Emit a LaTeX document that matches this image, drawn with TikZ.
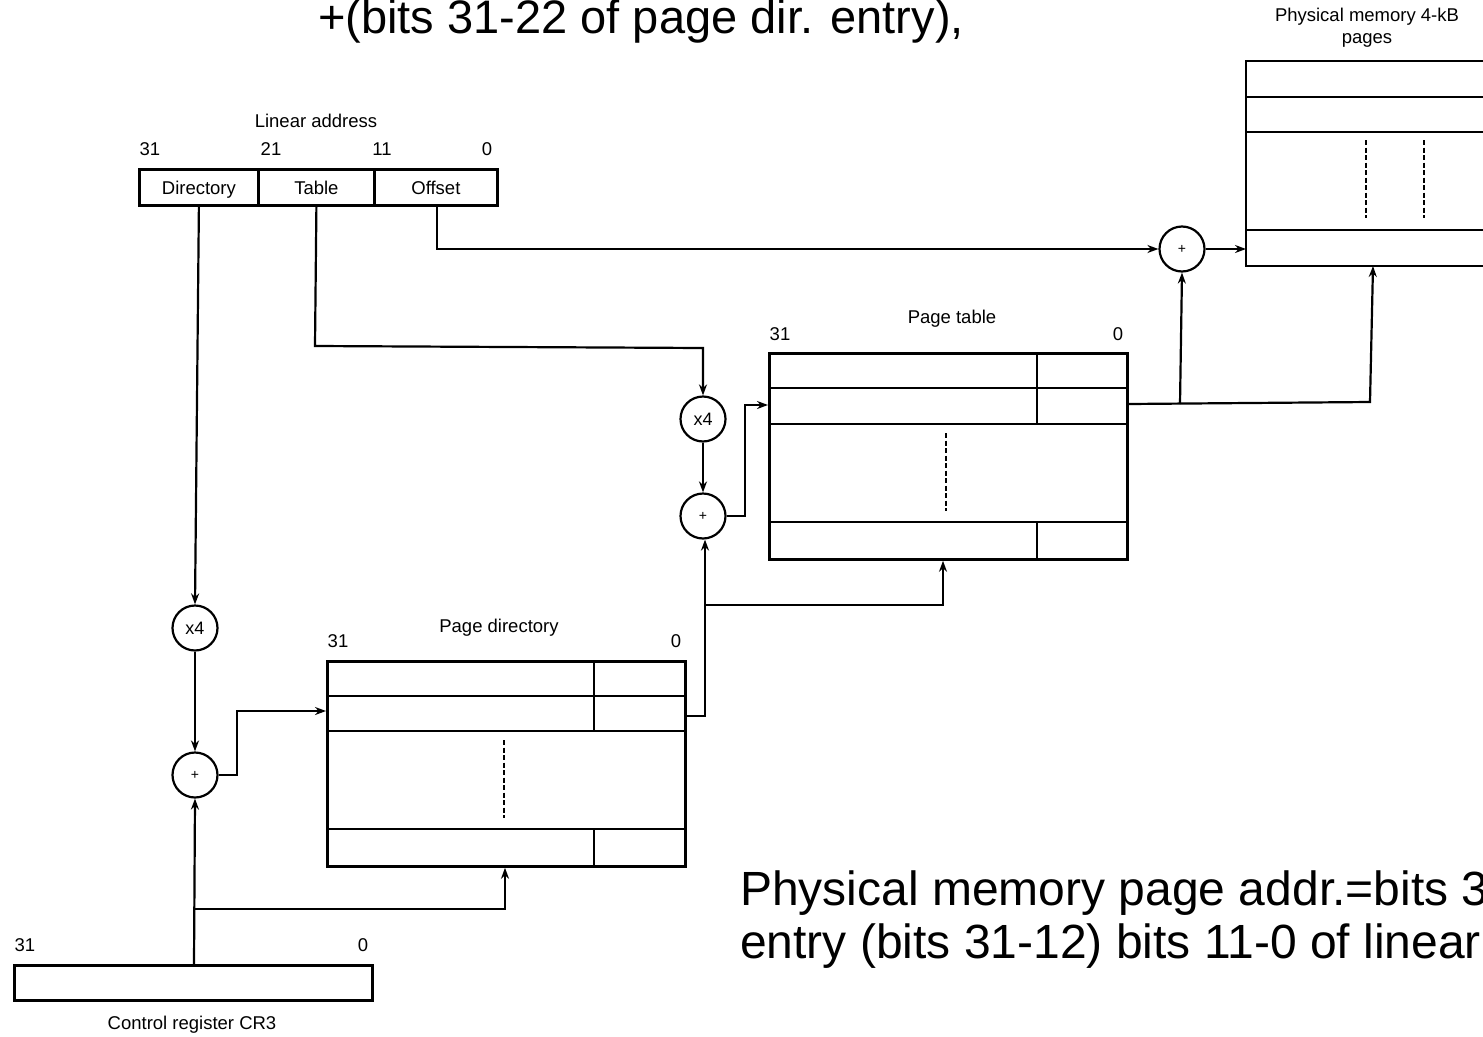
\documentclass[tikz,border=0pt]{standalone}
\usepackage{fontspec}
\setmainfont{Liberation Sans}
\usetikzlibrary{arrows.meta,calc}
\tikzset{
  lbl/.style={font=\fontsize{18.5}{22}\selectfont, inner sep=0pt},
  big/.style={font=\fontsize{47}{54}\selectfont, inner sep=0pt, anchor=base west},
  bigb/.style={font=\fontsize{48}{56}\selectfont, inner sep=0pt, anchor=base west},
  regbox/.style={draw, line width=2.8pt, rectangle, inner sep=0pt, anchor=north west},
  cell/.style={line width=2.8pt},
  opc/.style={draw, circle, line width=2.2pt, minimum size=45pt, inner sep=0pt, font=\fontsize{18}{20}\selectfont},
  conn/.style={line width=2.2pt, -{Stealth[length=11pt,width=8pt]}},
  dots/.style={line width=2.6pt, dash pattern=on 5pt off 2.5pt},
}
\begin{document}
\begin{tikzpicture}[x=1pt,y=-1pt]
\useasboundingbox (0,0) rectangle (1483,1036);
\clip (0,0) rectangle (1483,1036);
\fill[white] (0,0) rectangle (1483,1036);

% big texts
\node[big] (toptext) at (318,33) {+(bits 31-22 of page dir. entry),};
\node[bigb] (bot1) at (740,905) {Physical memory page addr.=bits 3};
\node[bigb] (bot2) at (740,958) {entry (bits 31-12) bits 11-0 of linear};

% Linear address
\node[lbl] (latitle) at (316,121) {Linear address};
\node[lbl] (la31) at (150,149) {31};
\node[lbl] (la21) at (271,149) {21};
\node[lbl] (la11) at (382,149) {11};
\node[lbl] (la0) at (487,149) {0};
\node[regbox, minimum width=119pt, minimum height=36pt] (dir) at (138,168) {};
\node[regbox, minimum width=116pt, minimum height=36pt] (tab) at (257,168) {};
\node[regbox, minimum width=123pt, minimum height=36pt] (off) at (373,168) {};
\node[lbl, anchor=base] (dirtxt) at ($(dir.south)+(0,-12)$) {Directory};
\node[lbl, anchor=base] (tabtxt) at ($(tab.south)+(0,-12)$) {Table};
\node[lbl, anchor=base] (offtxt) at ($(off.south)+(0,-12)$) {Offset};

% Physical memory
\node[lbl, align=center, font=\fontsize{18.5}{22}\selectfont] (pmtitle) at (1367,28) {Physical memory 4-kB\\pages};
\draw[cell] (1500,61) -- (1246,61) -- (1246,266) -- (1500,266);
\draw[cell] (1246,97) -- (1500,97);
\draw[cell] (1246,132) -- (1500,132);
\draw[cell] (1246,230) -- (1500,230);
\coordinate (pmin) at (1246,249);
\coordinate (pmbot) at (1373,266);
\draw[dots] (1366,140) -- (1366,218);
\draw[dots] (1424,140) -- (1424,218);

% Page table
\node[lbl] (pttitle) at (952,319) {Page table};
\node[lbl] (pt31) at (780,334) {31};
\node[lbl] (pt0) at (1118,334) {0};
\node[regbox, minimum width=358pt, minimum height=206pt] (pt) at (768,352) {};
\draw[cell] (768,388) -- (1126,388);
\draw[cell] (768,424) -- (1126,424);
\draw[cell] (768,522) -- (1126,522);
\draw[cell] (1037,352) -- (1037,424);
\draw[cell] (1037,522) -- (1037,558);
\draw[dots] (946,433) -- (946,511);

% Page directory
\node[lbl] (pdtitle) at (499,628) {Page directory};
\node[lbl] (pd31) at (338,641) {31};
\node[lbl] (pd0) at (676,641) {0};
\node[regbox, minimum width=358pt, minimum height=205pt] (pd) at (326,660) {};
\draw[cell] (326,696) -- (684,696);
\draw[cell] (326,731) -- (684,731);
\draw[cell] (326,829) -- (684,829);
\draw[cell] (594,660) -- (594,731);
\draw[cell] (594,829) -- (594,865);
\draw[dots] (504,740) -- (504,818);

% CR3
\node[lbl] (cr31) at (25,945) {31};
\node[lbl] (cr0) at (363,945) {0};
\node[regbox, minimum width=358pt, minimum height=35pt] (cr3) at (13,964) {};
\node[lbl] (crtitle) at (192,1025) {Control register CR3};

% operators
\node[opc] (x4a) at (195,628) {x4};
\node[opc] (pla) at (195,775) {\fontsize{14}{16}\selectfont +};
\node[opc] (x4b) at (703,419) {x4};
\node[opc] (plb) at (703,516) {\fontsize{14}{16}\selectfont +};
\node[opc] (plc) at (1182,249) {\fontsize{14}{16}\selectfont +};

% connectors
\draw[conn] (dir.south) -- (x4a.north);
\draw[conn] (x4a) -- (pla);
\draw[conn] (pla.east) -- (237,775) -- (237,711) -- (pd.west |- 0,711);
\draw[conn] (cr3.north -| 194,0) -- (pla.south);
\coordinate (crbr) at (195,909);
\draw[conn] (crbr) -- (505,909) -- (pd.south -| 505,0);

\draw[conn] (tab.south) -- (315,346) -- (703,348) -- (x4b.north);
\draw[conn] (x4b) -- (plb);
\draw[conn] (plb.east) -- (745,516) -- (745,405) -- (pt.west |- 0,405);
\draw[conn] (pd.east |- 0,716) -- (705,716) -- (plb.south -| 705,0);
\coordinate (pdbr) at (705,605);
\draw[conn] (pdbr) -- (943,605) -- (pt.south -| 943,0);

\draw[conn] (off.south -| 437,0) -- (437,249) -- (plc.west);
\draw[conn] (plc.east) -- (pmin);
\draw[conn] (pt.east |- 0,404) -- (1370,402) -- (pmbot);
\coordinate (ptbr) at (1180,404);
\draw[conn] (ptbr) -- (plc.south);
\end{tikzpicture}
\end{document}
